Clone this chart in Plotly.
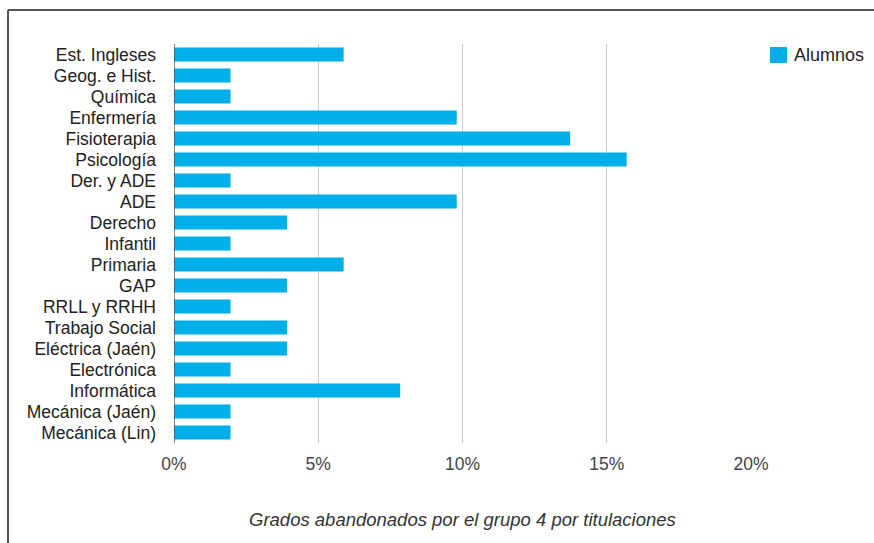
import plotly.graph_objects as go

# Titulaciones y porcentaje de alumnos del grupo 4 que abandonaron cada grado
titulaciones = [
    "Est. Ingleses", "Geog. e Hist.", "Química", "Enfermería", "Fisioterapia",
    "Psicología", "Der. y ADE", "ADE", "Derecho", "Infantil", "Primaria", "GAP",
    "RRLL y RRHH", "Trabajo Social", "Eléctrica (Jaén)", "Electrónica",
    "Informática", "Mecánica (Jaén)", "Mecánica (Lin)",
]
porcentajes = [
    5.88, 1.96, 1.96, 9.80, 13.73,
    15.69, 1.96, 9.80, 3.92, 1.96, 5.88, 3.92,
    1.96, 3.92, 3.92, 1.96,
    7.84, 1.96, 1.96,
]
ticks_x = [0, 5, 10, 15, 20]
ticks_txt = ["0%", "5%", "10%", "15%", "20%"]
serie = "Alumnos"
color_serie = "#00AEEA"

W, H = 874, 543
ML, MR, MT, MB = 174, 123, 44, 100
pw, ph = W - ML - MR, H - MT - MB


def px_x(p):
    return (p - ML) / pw


def px_y(p):
    return (H - MB - p) / ph


FONT = "Liberation Sans, Arial, sans-serif"

fig = go.Figure(
    go.Bar(
        x=porcentajes,
        y=titulaciones,
        orientation="h",
        name=serie,
        marker=dict(color=color_serie, line=dict(width=0)),
        showlegend=False,
    )
)

fig.update_layout(
    width=W,
    height=H,
    margin=dict(l=ML, r=MR, t=MT, b=MB),
    paper_bgcolor="white",
    plot_bgcolor="white",
    bargap=0.33,
    font=dict(family=FONT, size=18, color="#222"),
    xaxis=dict(
        range=[0, 20],
        tickmode="array",
        tickvals=ticks_x,
        ticktext=ticks_txt,
        showgrid=True,
        gridcolor="#CCCCCC",
        gridwidth=1,
        zeroline=False,
        showline=False,
        ticks="",
        tickfont=dict(size=17.5, color="#444"),
        ticklabelstandoff=8,
    ),
    yaxis=dict(
        autorange="reversed",
        tickmode="array",
        tickvals=titulaciones,
        ticktext=titulaciones,
        showgrid=False,
        zeroline=False,
        showline=False,
        ticks="",
        tickfont=dict(size=17.5, color="#222"),
        ticklabelstandoff=17,
    ),
    annotations=[
        dict(
            text="<i>Grados abandonados por el grupo 4 por titulaciones</i>",
            x=0.5,
            y=px_y(519),
            xref="paper",
            yref="paper",
            showarrow=False,
            font=dict(size=18.5, color="#333"),
            xanchor="center",
            yanchor="middle",
        ),
        # leyenda
        dict(
            text=serie,
            x=px_x(792),
            y=px_y(55),
            xref="paper",
            yref="paper",
            showarrow=False,
            font=dict(size=18, color="#222"),
            xanchor="left",
            yanchor="middle",
        ),
    ],
    shapes=[
        # eje base en 0%
        dict(type="line", xref="x", yref="paper", x0=0, x1=0, y0=0, y1=1,
             line=dict(color="#555", width=1.5)),
        # marco superior e izquierdo
        dict(type="line", xref="paper", yref="paper",
             x0=px_x(8), x1=px_x(874), y0=px_y(10), y1=px_y(10),
             line=dict(color="#555", width=2)),
        dict(type="line", xref="paper", yref="paper",
             x0=px_x(8), x1=px_x(8), y0=px_y(10), y1=px_y(545),
             line=dict(color="#555", width=2)),
        # muestra de color de la leyenda
        dict(type="rect", xref="paper", yref="paper",
             x0=px_x(770), x1=px_x(787), y0=px_y(63), y1=px_y(47),
             fillcolor=color_serie, line=dict(width=0)),
    ],
)

fig.write_html("out.html")
